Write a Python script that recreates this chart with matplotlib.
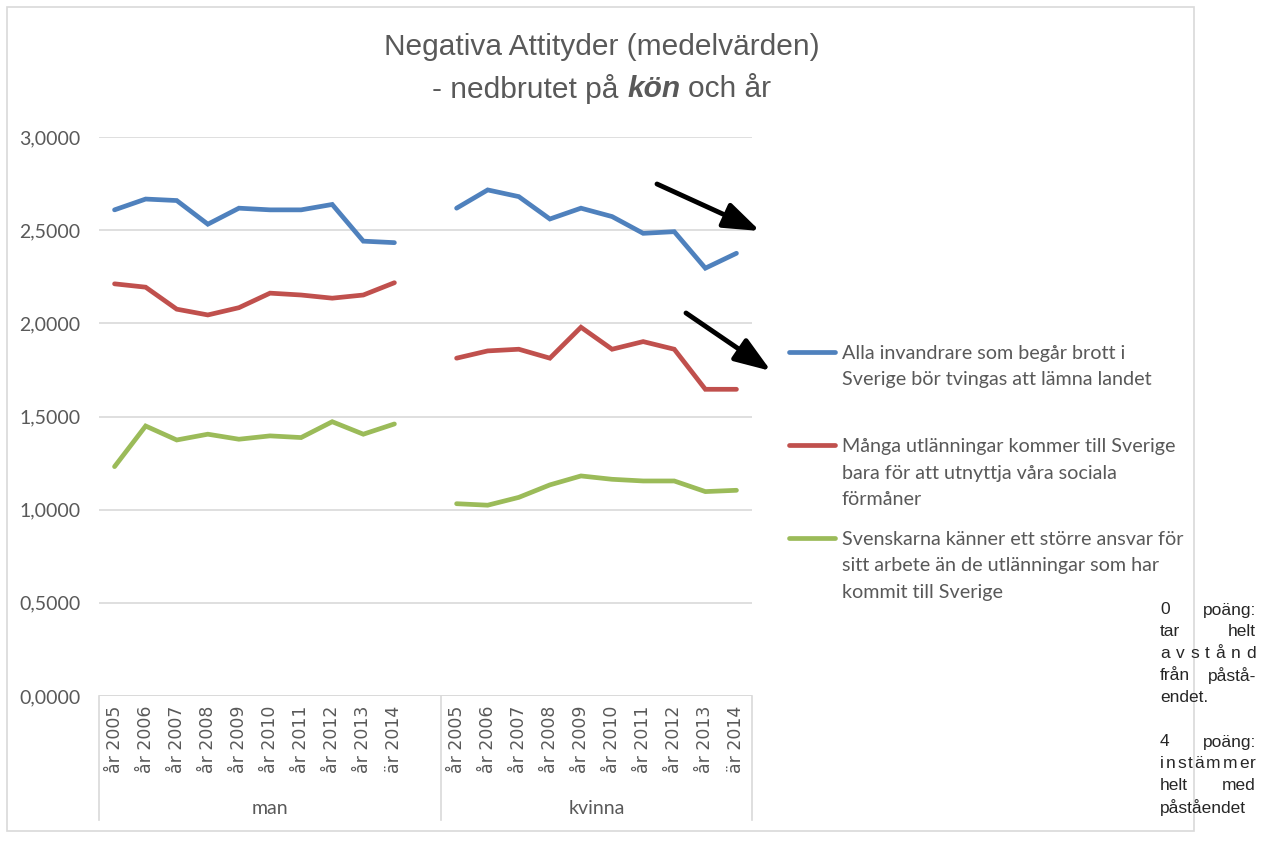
import numpy as np
import matplotlib
matplotlib.use("Agg")
import matplotlib.pyplot as plt
from matplotlib.lines import Line2D
from matplotlib.patches import Rectangle

# ---------------- data ----------------
years = ["år 2005", "år 2006", "år 2007", "år 2008", "år 2009",
         "år 2010", "år 2011", "år 2012", "år 2013", "är 2014"]
groups = ["man", "kvinna"]

alla_man = [2.609, 2.667, 2.659, 2.532, 2.618, 2.609, 2.609, 2.638, 2.441, 2.433]
alla_kvinna = [2.618, 2.716, 2.680, 2.560, 2.618, 2.573, 2.483, 2.492, 2.296, 2.376]
manga_man = [2.212, 2.194, 2.076, 2.045, 2.084, 2.162, 2.152, 2.135, 2.152, 2.218]
manga_kvinna = [1.813, 1.852, 1.861, 1.813, 1.979, 1.861, 1.902, 1.861, 1.646, 1.646]
svensk_man = [1.231, 1.449, 1.374, 1.405, 1.378, 1.396, 1.387, 1.472, 1.405, 1.460]
svensk_kvinna = [1.032, 1.024, 1.066, 1.133, 1.181, 1.163, 1.154, 1.154, 1.097, 1.104]

series_labels = [
    ["Alla invandrare som begår brott i", "Sverige bör tvingas att lämna landet"],
    ["Många utlänningar kommer till Sverige", "bara för att utnyttja våra sociala", "förmåner"],
    ["Svenskarna känner ett större ansvar för", "sitt arbete än de utlänningar som har",
     "kommit till Sverige"],
]
series_colors = ["#4f81bd", "#c0504d", "#9bbb59"]

yticks = [0.0, 0.5, 1.0, 1.5, 2.0, 2.5, 3.0]
ytick_labels = ["0,0000", "0,5000", "1,0000", "1,5000", "2,0000", "2,5000", "3,0000"]

note_lines = [
    ["0", "poäng:"],
    ["tar", "helt"],
    ["a", "v", "s", "t", "å", "n", "d"],
    ["från", "påstå-"],
    ["endet."],
    [],
    ["4", "poäng:"],
    ["i", "n", "s", "t", "ä", "m", "m", "e", "r"],
    ["helt", "med"],
    ["påståendet"],
]

# ---------------- figure ----------------
W, H = 1261, 842
fig = plt.figure(figsize=(W / 100, H / 100), dpi=100)
fig.patch.set_facecolor("white")

def fx(px):
    return px / W

def fy(py):
    return 1 - py / H

gray_txt = "#595959"
grid_c = "#d9d9d9"
calib = ["Lato", "DejaVu Sans"]
narrow = ["Liberation Sans", "DejaVu Sans"]

# outer chart frame
fig.add_artist(Rectangle((fx(7), fy(831)), fx(1194) - fx(7), fy(7) - fy(831),
                         transform=fig.transFigure, fill=False,
                         edgecolor=grid_c, lw=1.2))

L, R, T, B = 99, 752, 137, 696
ax = fig.add_axes([fx(L), fy(B), fx(R) - fx(L), fy(T) - fy(B)])

n = len(years)
x_man = np.arange(n)
x_kv = np.arange(n) + n + 1

for vals_m, vals_k, c in [(alla_man, alla_kvinna, series_colors[0]),
                          (manga_man, manga_kvinna, series_colors[1]),
                          (svensk_man, svensk_kvinna, series_colors[2])]:
    ax.plot(x_man, vals_m, color=c, lw=3.4, solid_capstyle="round", solid_joinstyle="miter", zorder=3)
    ax.plot(x_kv, vals_k, color=c, lw=3.4, solid_capstyle="round", solid_joinstyle="miter", zorder=3)

ax.set_xlim(-0.5, 2 * n + 0.5)
ax.set_ylim(0, 3)
ax.set_yticks(yticks)
ax.set_yticklabels(ytick_labels, fontsize=14, color=gray_txt, family=calib)
ax.yaxis.grid(True, color=grid_c, lw=1.2)
ax.set_axisbelow(True)
for s in ax.spines.values():
    s.set_visible(False)
ax.tick_params(axis="y", length=0, pad=13.5)

xt = list(x_man) + list(x_kv)
ax.set_xticks(xt)
ax.set_xticklabels(years + years, rotation=90, fontsize=12.5, color=gray_txt,
                   family=["DejaVu Sans"], va="top")
ax.tick_params(axis="x", length=0, pad=7)

# category axis separators
ax_h = B - T
sep_bottom = -(820 - B) / ax_h
for xs in [-0.5, n + 0.5, 2 * n + 0.5]:
    ax.plot([xs, xs], [0, sep_bottom], transform=ax.get_xaxis_transform(),
            color=grid_c, lw=1.2, clip_on=False)
ax.axhline(0, color=grid_c, lw=1.2)

gy = -(808 - B) / ax_h
ax.text((-0.5 + n + 0.5) / 2, gy, groups[0], transform=ax.get_xaxis_transform(),
        ha="center", va="center", fontsize=14, color=gray_txt, family=calib)
ax.text((n + 0.5 + 2 * n + 0.5) / 2, gy, groups[1], transform=ax.get_xaxis_transform(),
        ha="center", va="center", fontsize=14, color=gray_txt, family=calib)

# arrows
for tail, tip in [((657, 184), (760, 231)), ((686, 313), (771, 371))]:
    ax.annotate("", xy=(tip[0], H - tip[1]), xytext=(tail[0], H - tail[1]),
                xycoords="figure pixels", textcoords="figure pixels",
                arrowprops=dict(arrowstyle="-|>,head_length=1.0,head_width=0.36",
                                lw=3.5, color="black", mutation_scale=22,
                                shrinkA=0, shrinkB=0))

# legend (manual)
leg_y = [352, 445, 538]
for yy, lab, c in zip(leg_y, series_labels, series_colors):
    fig.add_artist(Line2D([fx(789), fx(835)], [fy(yy), fy(yy)], transform=fig.transFigure,
                          color=c, lw=3.4, solid_capstyle="round"))
    for i, line in enumerate(lab):
        fig.text(fx(842), fy(yy + i * 26.5), line, ha="left", va="center_baseline",
                 fontsize=14.2, color=gray_txt, family=calib)

# title
tkw = dict(fontsize=21.5, color=gray_txt, family=narrow)
fig.text(fx(602), fy(47), "Negativa Attityder (medelvärden)", ha="center", va="center", **tkw)

fig.canvas.draw()
rend = fig.canvas.get_renderer()

def width_px(s, **kw):
    t = fig.text(0, 0, s, **kw)
    w = t.get_window_extent(rend).width
    t.remove()
    return w

p1, p2, p3 = "- nedbrutet på", "kön", "och år"
sp = width_px("a a", **tkw) - width_px("aa", **tkw)
w1 = width_px(p1, **tkw)
w2 = width_px(p2, fontweight="bold", fontstyle="italic", **tkw)
w3 = width_px(p3, **tkw)
total = w1 + sp + w2 + sp + w3
x0 = 602 - total / 2
ty = fy(89)
fig.text(fx(x0), ty, p1, ha="left", va="center", **tkw)
fig.text(fx(x0 + w1 + sp), ty, p2, ha="left", va="center", fontweight="bold",
         fontstyle="italic", **tkw)
fig.text(fx(x0 + w1 + sp + w2 + sp), ty, p3, ha="left", va="center", **tkw)

# justified note on the right
nkw = dict(fontsize=12.5, color="#262626", family=narrow)
NL, NR = 1160, 1256
ny = 610
for toks in note_lines:
    if toks:
        if len(toks) == 1:
            fig.text(fx(NL), fy(ny), toks[0], ha="left", va="center", **nkw)
        else:
            ws = [width_px(t, **nkw) for t in toks]
            gap = (NR - NL - sum(ws)) / (len(toks) - 1)
            xx = NL
            for t, w in zip(toks, ws):
                fig.text(fx(xx), fy(ny), t, ha="left", va="center", **nkw)
                xx += w + gap
    ny += 22

fig.savefig("out.png", dpi=100, facecolor="white")
